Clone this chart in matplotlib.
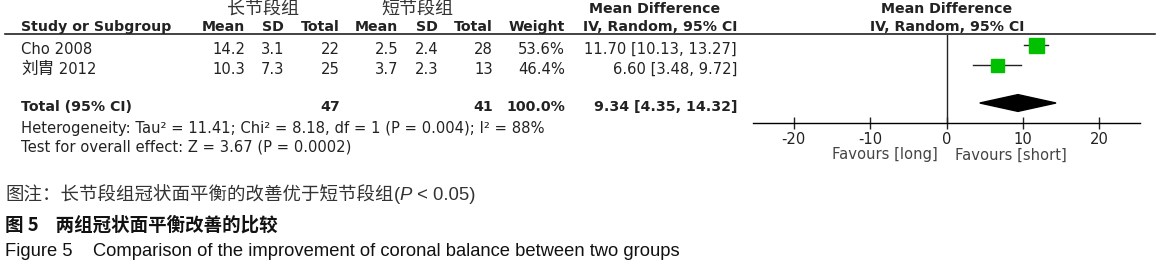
import matplotlib
matplotlib.use('Agg')
import matplotlib.pyplot as plt
import numpy as np

plt.rcParams['font.family'] = ['DejaVu Sans', 'Noto Sans CJK SC']

# 数据
studies = ['Cho 2008', '刘胄 2012']
long_mean = [14.2, 10.3]
long_sd = [3.1, 7.3]
long_n = [22, 25]
short_mean = [2.5, 3.7]
short_sd = [2.4, 2.3]
short_n = [28, 13]
weights = [53.6, 46.4]
md = [11.70, 6.60]
ci_low = [10.13, 3.48]
ci_high = [13.27, 9.72]
total_md, total_low, total_high = 9.34, 4.35, 14.32
total_long, total_short = 47, 41
xticks = [-20, -10, 0, 10, 20]

W, H = 1163, 268
fig = plt.figure(figsize=(W / 100, H / 100), dpi=100)
renderer = fig.canvas.get_renderer()

# 文本层，像素坐标
ax = fig.add_axes([0, 0, 1, 1])
ax.set_xlim(0, W)
ax.set_ylim(H, 0)
ax.axis('off')

def row_y(r):
    return 49 + 20 * r

fs = 10.6
bfs = 10.2
tc = '#222222'
cjk = ['Noto Sans CJK SC', 'DejaVu Sans']
cols_right = [245, 284, 340, 398, 438, 493, 565, 737]

# 表头
ax.text(263, row_y(-2), '长节段组', ha='center', va='center', fontsize=13, color='#333333', family=cjk)
ax.text(417, row_y(-2), '短节段组', ha='center', va='center', fontsize=13, color='#333333', family=cjk)
ax.text(655, row_y(-2), 'Mean Difference', ha='center', va='center', fontsize=bfs, fontweight='bold', color=tc)
ax.text(947, row_y(-2), 'Mean Difference', ha='center', va='center', fontsize=bfs, fontweight='bold', color=tc)
hy = row_y(-1.1)
ax.text(21, hy, 'Study or Subgroup', ha='left', va='center', fontsize=bfs, fontweight='bold', color=tc)
heads = ['Mean', 'SD', 'Total', 'Mean', 'SD', 'Total', 'Weight', 'IV, Random, 95% CI']
for x, h in zip(cols_right, heads):
    ax.text(x, hy, h, ha='right', va='center', fontsize=bfs, fontweight='bold', color=tc)
ax.text(947, hy, 'IV, Random, 95% CI', ha='center', va='center', fontsize=bfs, fontweight='bold', color=tc)
ax.plot([5, 1155], [34, 34], color='#222222', lw=1.2)

# 研究行
for i, s in enumerate(studies):
    y = row_y(i)
    name, year = s.split(' ')
    if name.isascii():
        ax.text(21, y, s, ha='left', va='center', fontsize=fs, color=tc)
    else:
        t = ax.text(21, y, name, ha='left', va='center', fontsize=12, color=tc, family=cjk)
        w = t.get_window_extent(renderer).width
        ax.text(21 + w, y, ' ' + year, ha='left', va='center', fontsize=fs, color=tc)
    vals = [f'{long_mean[i]}', f'{long_sd[i]}', f'{long_n[i]}',
            f'{short_mean[i]}', f'{short_sd[i]}', f'{short_n[i]}',
            f'{weights[i]:.1f}%', f'{md[i]:.2f} [{ci_low[i]:.2f}, {ci_high[i]:.2f}]']
    for x, v in zip(cols_right, vals):
        ax.text(x, y, v, ha='right', va='center', fontsize=fs, color=tc)

# 合计
y = row_y(2.9)
ax.text(21, y, 'Total (95% CI)', ha='left', va='center', fontsize=bfs, fontweight='bold', color=tc)
ax.text(cols_right[2], y, f'{total_long}', ha='right', va='center', fontsize=bfs, fontweight='bold', color=tc)
ax.text(cols_right[5], y, f'{total_short}', ha='right', va='center', fontsize=bfs, fontweight='bold', color=tc)
ax.text(cols_right[6], y, '100.0%', ha='right', va='center', fontsize=bfs, fontweight='bold', color=tc)
ax.text(cols_right[7], y, f'{total_md:.2f} [{total_low:.2f}, {total_high:.2f}]',
        ha='right', va='center', fontsize=bfs, fontweight='bold', color=tc)
ax.text(21, row_y(3.95), 'Heterogeneity: Tau² = 11.41; Chi² = 8.18, df = 1 (P = 0.004); I² = 88%',
        ha='left', va='center', fontsize=fs, color=tc)
ax.text(21, row_y(4.9), 'Test for overall effect: Z = 3.67 (P = 0.0002)',
        ha='left', va='center', fontsize=fs, color=tc)

# 森林图
x0, x1 = 753, 1140
ytop, ybot = 35, 123
fax = fig.add_axes([x0 / W, 1 - ybot / H, (x1 - x0) / W, (ybot - ytop) / H])
fax.set_xlim(-25.3, 25.3)
fax.set_ylim((ybot - 45) / 20, (ytop - 45) / 20)
fax.patch.set_alpha(0)
for sp in ['top', 'left', 'right']:
    fax.spines[sp].set_visible(False)
fax.spines['bottom'].set_linewidth(1.0)
fax.set_yticks([])
fax.set_xticks(xticks)
fax.set_xticklabels([str(t) for t in xticks])
fax.tick_params(axis='x', direction='inout', length=9, width=1.0, labelsize=fs, pad=2, colors=tc)
fax.axvline(0, color='#222222', lw=1.0)

sizes = [15, 13]
for i in range(len(studies)):
    fax.plot([ci_low[i], ci_high[i]], [i, i], color='#222222', lw=1.0)
    fax.plot(md[i], i, marker='s', ms=sizes[i] * 0.72, color='#00c000', mec='#00c000')
dy = 0.42
fax.fill([total_low, total_md, total_high, total_md], [2.9, 2.9 - dy, 2.9, 2.9 + dy], color='black')

ax.text(938, 155, 'Favours [long]', ha='right', va='center', fontsize=fs, color='#444444')
ax.text(955, 155, 'Favours [short]', ha='left', va='center', fontsize=fs, color='#444444')

# 图注
cfs = 13.3
pieces = [('图注：长节段组冠状面平衡的改善优于短节段组', cjk, 'normal'),
          ('(', ['Liberation Sans'], 'normal'),
          ('P', ['Liberation Sans'], 'italic'),
          (' < 0.05)', ['Liberation Sans'], 'normal')]
xc = 5
for txt, fam, st in pieces:
    t = ax.text(xc, 196, txt, ha='left', va='center', fontsize=cfs, color='#333333',
                family=fam, style=st)
    bb = t.get_window_extent(renderer)
    xc += bb.width
ax.text(5, 225, '图 5    两组冠状面平衡改善的比较', ha='left', va='center', fontsize=cfs,
        fontweight='bold', color='#111111', family=['Noto Sans CJK SC', 'Liberation Sans'])
ax.text(5, 252, 'Figure 5    Comparison of the improvement of coronal balance between two groups',
        ha='left', va='center', fontsize=13.2, color='#111111', family=['Liberation Sans'])

fig.savefig('out.png', dpi=100)
